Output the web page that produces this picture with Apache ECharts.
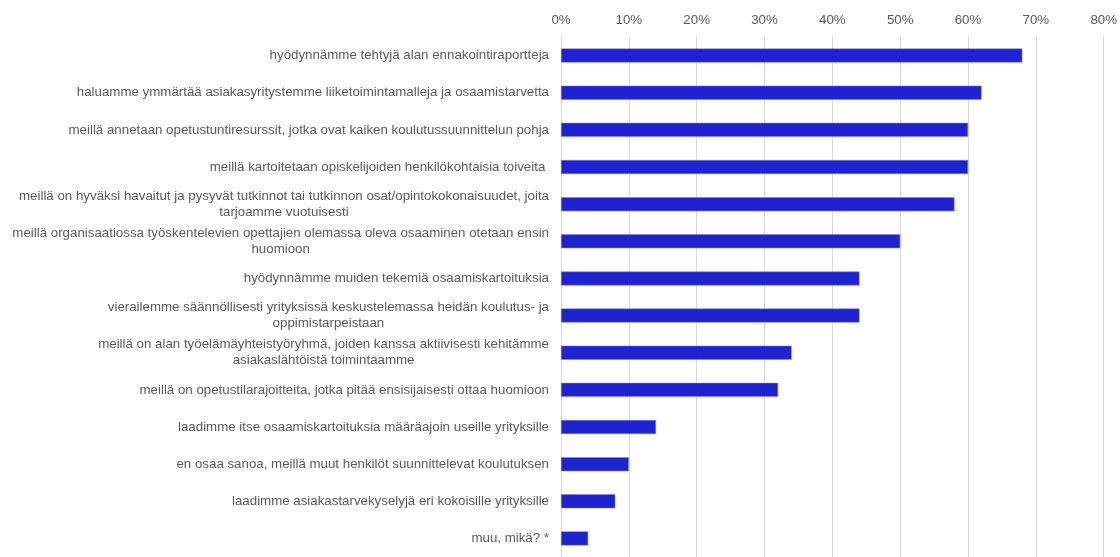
<!DOCTYPE html>
<html>
<head>
<meta charset="utf-8">
<script src="https://cdn.jsdelivr.net/npm/echarts@6/dist/echarts.min.js"></script>
<style>
html,body{margin:0;padding:0;background:#fff;}
#chart{width:1120px;height:557px;}
</style>
</head>
<body>
<div id="chart"></div>
<script>
const categories = [
  "hyödynnämme tehtyjä alan ennakointiraportteja",
  "haluamme ymmärtää asiakasyritystemme liiketoimintamalleja ja osaamistarvetta",
  "meillä annetaan opetustuntiresurssit, jotka ovat kaiken koulutussuunnittelun pohja",
  "meillä kartoitetaan opiskelijoiden henkilökohtaisia toiveita ",
  "meillä on hyväksi havaitut ja pysyvät tutkinnot tai tutkinnon osat/opintokokonaisuudet, joita\ntarjoamme vuotuisesti",
  "meillä organisaatiossa työskentelevien opettajien olemassa oleva osaaminen otetaan ensin\nhuomioon",
  "hyödynnämme muiden tekemiä osaamiskartoituksia",
  "vierailemme säännöllisesti yrityksissä keskustelemassa heidän koulutus- ja\noppimistarpeistaan",
  "meillä on alan työelämäyhteistyöryhmä, joiden kanssa aktiivisesti kehitämme\nasiakaslähtöistä toimintaamme",
  "meillä on opetustilarajoitteita, jotka pitää ensisijaisesti ottaa huomioon",
  "laadimme itse osaamiskartoituksia määräajoin useille yrityksille",
  "en osaa sanoa, meillä muut henkilöt suunnittelevat koulutuksen",
  "laadimme asiakastarvekyselyjä eri kokoisille yrityksille",
  "muu, mikä? *"
];
const values = [68, 62, 60, 60, 58, 50, 44, 44, 34, 32, 14, 10, 8, 4];
const axisMin = 0;
const axisMax = 80;
const axisStep = 10;

const chart = echarts.init(document.getElementById('chart'), null, {renderer: 'canvas'});
chart.setOption({
  animation: false,
  backgroundColor: '#ffffff',
  grid: {left: 561, right: 14, top: 37, bottom: -7, containLabel: false},
  xAxis: {
    type: 'value',
    position: 'top',
    min: axisMin,
    max: axisMax,
    interval: axisStep,
    axisLine: {show: false},
    axisTick: {show: false},
    axisLabel: {
      formatter: '{value}%',
      color: '#595959',
      fontFamily: 'Liberation Sans, Arial, sans-serif',
      fontSize: 13.3,
      margin: 10
    },
    splitLine: {show: true, lineStyle: {color: '#d9d9d9', width: 1}}
  },
  yAxis: {
    type: 'category',
    inverse: true,
    data: categories,
    axisLine: {show: true, lineStyle: {color: '#d9d9d9', width: 1}},
    axisTick: {show: false},
    axisLabel: {
      margin: 12,
      align: 'right',
      formatter: function (v) { return '{c|' + v + '}'; },
      rich: {
        c: {
          align: 'center',
          color: '#595959',
          fontFamily: 'Liberation Sans, Arial, sans-serif',
          fontSize: 13.3,
          lineHeight: 16
        }
      }
    }
  },
  series: [{
    type: 'bar',
    data: values,
    barWidth: 14,
    itemStyle: {color: '#1f22cf', borderColor: '#7f82e0', borderWidth: 0.5}
  }]
});
</script>
</body>
</html>
